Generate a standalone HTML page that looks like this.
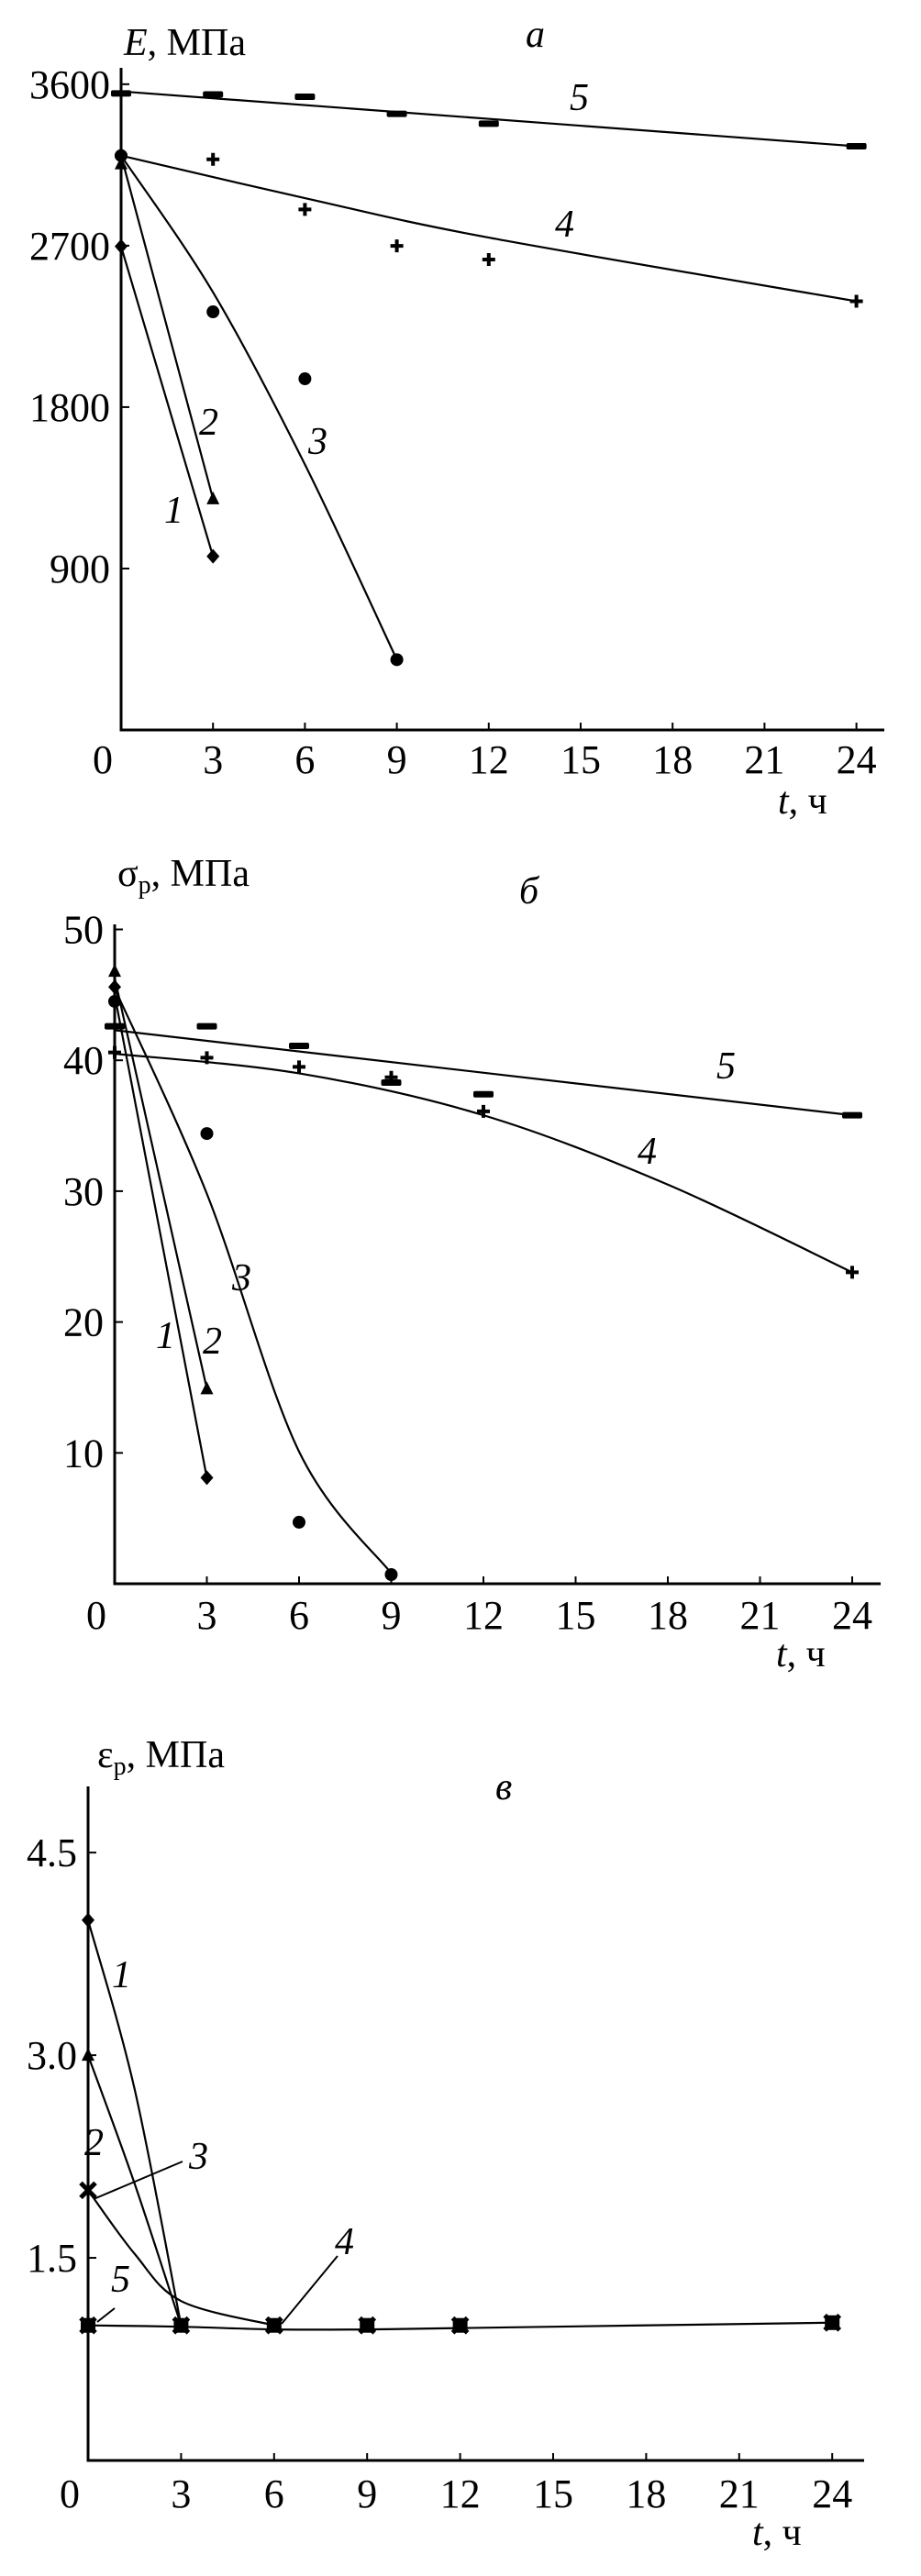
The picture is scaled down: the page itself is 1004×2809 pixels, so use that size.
<!DOCTYPE html>
<html><head><meta charset="utf-8"><style>
html,body{margin:0;padding:0;background:#fff;}
svg{display:block;}
text{font-family:"Liberation Serif","Times New Roman",serif;fill:#000;}
.tick{font-size:44px;font-family:"Liberation Serif",serif;}
.it{font-style:italic;font-size:42px;font-family:"Liberation Serif",serif;}
</style></head><body>
<svg id="chart" width="1004" height="2809" viewBox="0 0 1004 2809" xmlns="http://www.w3.org/2000/svg" font-family="Liberation Serif, serif"></svg>
<script>
// ---- Panel a: E, MPa ----
const aTimes = [0, 3, 6, 9, 12, 24];
const aS5 = [3549, 3543, 3530, 3435, 3380, 3254];
const aS4 = [3202, 3181, 2902, 2699, 2623, 2390];
const aS3 = [3202, 2331, 1958, 392];
const aS2 = [3156, 1289];
const aS1 = [2696, 968];
const aFit5T = [0, 24]; const aFit5V = [3560, 3254];
const aFit4T = [0, 6, 12, 24]; const aFit4V = [3202, 2965, 2745, 2390];
const aFit3T = [0, 3, 6, 9]; const aFit3V = [3202, 2440, 1480, 392];
const aFit2T = [0, 3]; const aFit2V = [3202, 1289];
const aFit1T = [0, 3]; const aFit1V = [2696, 968];
const aYTicks = [900, 1800, 2700, 3600];
const xTicks = [3, 6, 9, 12, 15, 18, 21, 24];
// ---- Panel b: sigma_p ----
const bS5 = [42.6, 42.6, 41.1, 38.3, 37.4, 35.8];
const bS4 = [40.6, 40.2, 39.5, 38.7, 36.1, 23.8];
const bS3 = [44.5, 34.4, 4.7, 0.7];
const bS2 = [46.8, 14.9];
const bS1 = [45.6, 8.1];
const bFit5T = [0, 24]; const bFit5V = [42.3, 35.8];
const bFit4T = [0, 6, 12, 18, 24]; const bFit4V = [40.5, 39.0, 35.8, 30.5, 23.8];
const bFit3T = [0, 3, 6, 9]; const bFit3V = [45.5, 29.8, 10.1, 0.8];
const bFit2T = [0, 3]; const bFit2V = [46.3, 14.9];
const bFit1T = [0, 3]; const bFit1V = [45.0, 8.1];
const bYTicks = [10, 20, 30, 40, 50];
// ---- Panel c: epsilon_p ----
const cS1 = [4.0, 1.0];
const cS2 = [3.0, 1.0];
const cS3 = [2.0, 1.0, 1.0, 1.0, 1.0, 1.02];
const cS45 = [1.0, 1.0, 1.0, 1.0, 1.0, 1.02];
const cFit1T = [0, 1.5, 3]; const cFit1V = [4.0, 2.75, 1.0];
const cFit2T = [0, 1.5, 3]; const cFit2V = [3.0, 2.05, 1.0];
const cFit3T = [0, 1.5, 3, 6]; const cFit3V = [2.0, 1.53, 1.18, 1.0];
const cFit4T = [0, 3, 6, 9, 12, 24]; const cFit4V = [1.0, 0.99, 0.97, 0.97, 0.98, 1.02];
const cYTicks = [1.5, 3.0, 4.5];

const svg = document.getElementById('chart');
const NS = 'http://www.w3.org/2000/svg';
function mk(tag, attrs, parent) {
  const e = document.createElementNS(NS, tag);
  for (const k in attrs) e.setAttribute(k, attrs[k]);
  (parent || svg).appendChild(e);
  return e;
}
function txt(x, y, s, cls, anchor, parent) {
  const t = mk('text', {x: x, y: y, class: cls, 'text-anchor': anchor || 'start'}, parent);
  t.textContent = s;
  return t;
}
function smooth(pts) {
  if (pts.length < 3) return 'M' + pts.map(p => p[0] + ',' + p[1]).join(' L');
  let d = 'M' + pts[0][0] + ',' + pts[0][1];
  for (let i = 0; i < pts.length - 1; i++) {
    const p0 = pts[i - 1] || pts[i], p1 = pts[i], p2 = pts[i + 1], p3 = pts[i + 2] || p2;
    const c1 = [p1[0] + (p2[0] - p0[0]) / 6, p1[1] + (p2[1] - p0[1]) / 6];
    const c2 = [p2[0] - (p3[0] - p1[0]) / 6, p2[1] - (p3[1] - p1[1]) / 6];
    d += ' C' + c1[0] + ',' + c1[1] + ' ' + c2[0] + ',' + c2[1] + ' ' + p2[0] + ',' + p2[1];
  }
  return d;
}
function marker(g, type, x, y) {
  let e;
  if (type === 'diamond') e = mk('polygon', {points: `${x},${y-8} ${x+7},${y} ${x},${y+8} ${x-7},${y}`, fill: '#000'}, g);
  else if (type === 'triangle') e = mk('polygon', {points: `${x},${y-8} ${x+7},${y+6} ${x-7},${y+6}`, fill: '#000'}, g);
  else if (type === 'circle') e = mk('circle', {cx: x, cy: y, r: 7, fill: '#000'}, g);
  else if (type === 'plus') e = mk('path', {d: `M${x-7},${y} H${x+7} M${x},${y-7} V${y+7}`, stroke: '#000', 'stroke-width': 4}, g);
  else if (type === 'dash') e = mk('rect', {x: x-11, y: y-3.5, width: 22, height: 7, rx: 2, fill: '#000'}, g);
  else if (type === 'square') e = mk('rect', {x: x-8, y: y-8, width: 16, height: 16, fill: '#000'}, g);
  else if (type === 'cross') e = mk('path', {d: `M${x-8},${y-8} L${x+8},${y+8} M${x+8},${y-8} L${x-8},${y+8}`, stroke: '#000', 'stroke-width': 5}, g);
  
  
}
function panel(cfg) {
  const g = mk('g', {});
  
  
  const X = t => cfg.x0 + t * cfg.kx;
  const Y = v => cfg.y0 - v * cfg.ky;
  const ax = mk('path', {d: `M${cfg.x0},${cfg.top} V${cfg.y0} H${cfg.xEnd}`, stroke: '#000', 'stroke-width': 3, fill: 'none'}, g);
  
  
  xTicks.forEach(t => {
    const tk = mk('line', {x1: X(t), x2: X(t), y1: cfg.y0, y2: cfg.y0 - 8, stroke: '#000', 'stroke-width': 2}, g);
    
    
    const l = txt(X(t), cfg.xLabY, String(t), 'tick', 'middle', g);
    
    
  });
  const z = txt(cfg.x0 - 20, cfg.xLabY, '0', 'tick', 'middle', g);
  
  
  cfg.yTicks.forEach(v => {
    const tk = mk('line', {x1: cfg.x0, x2: cfg.x0 + 9, y1: Y(v), y2: Y(v), stroke: '#000', 'stroke-width': 2}, g);
    
    
    const l = txt(cfg.x0 - 12, Y(v) + 15, cfg.fmt(v), 'tick', 'end', g);
    
    
  });
  cfg.fits.forEach(f => {
    const p = mk('path', {d: smooth(f[0].map((t, i) => [X(t), Y(f[1][i])])), stroke: '#000', 'stroke-width': 2.2, fill: 'none'}, g);
    
    
  });
  cfg.series.forEach(s => {
    s[1].forEach((v, i) => marker(g, s[0], X(aTimes[i]), Y(v)));
  });
  return g;
}
panel({name: 'panel-a', x0: 132, y0: 796, kx: 33.4, ky: 0.1956, top: 74, xEnd: 964, xLabY: 843,
  yTicks: aYTicks, fmt: v => String(v),
  fits: [[aFit5T, aFit5V, '5'], [aFit4T, aFit4V, '4'], [aFit3T, aFit3V, '3'], [aFit2T, aFit2V, '2'], [aFit1T, aFit1V, '1']],
  series: [['dash', aS5], ['plus', aS4], ['circle', aS3], ['triangle', aS2], ['diamond', aS1]]});
panel({name: 'panel-b', x0: 125, y0: 1727, kx: 33.5, ky: 14.27, top: 1008, xEnd: 960, xLabY: 1776,
  yTicks: bYTicks, fmt: v => String(v),
  fits: [[bFit5T, bFit5V, '5'], [bFit4T, bFit4V, '4'], [bFit3T, bFit3V, '3'], [bFit2T, bFit2V, '2'], [bFit1T, bFit1V, '1']],
  series: [['dash', bS5], ['plus', bS4], ['circle', bS3], ['triangle', bS2], ['diamond', bS1]]});
panel({name: 'panel-c', x0: 96, y0: 2683, kx: 33.8, ky: 147.3, top: 1948, xEnd: 942, xLabY: 2734,
  yTicks: cYTicks, fmt: v => v.toFixed(1),
  fits: [[cFit1T, cFit1V, '1'], [cFit2T, cFit2V, '2'], [cFit3T, cFit3V, '3'], [cFit4T, cFit4V, '4-5']],
  series: [['diamond', cS1], ['triangle', cS2], ['cross', cS3], ['square', cS45], ['cross', cS45]]});
</script>
<svg style="position:absolute;left:0;top:0" width="1004" height="2809" xmlns="http://www.w3.org/2000/svg">
  <text x="135" y="60" style="font-size:42px"><tspan font-style="italic">E</tspan>, МПа</text>
  <text x="573" y="51" class="it">а</text>
  <text x="848" y="887" style="font-size:42px"><tspan font-style="italic">t</tspan>, ч</text>
  <text x="621" y="120" class="it">5</text>
  <text x="605" y="258" class="it">4</text>
  <text x="336" y="495" class="it">3</text>
  <text x="217" y="474" class="it">2</text>
  <text x="179" y="570" class="it">1</text>

  <text x="128" y="966" style="font-size:42px">σ<tspan font-size="28" dy="8">р</tspan><tspan dy="-8">, МПа</tspan></text>
  <text x="566" y="985" class="it">б</text>
  <text x="846" y="1817" style="font-size:42px"><tspan font-style="italic">t</tspan>, ч</text>
  <text x="781" y="1176" class="it">5</text>
  <text x="695" y="1269" class="it">4</text>
  <text x="253" y="1407" class="it">3</text>
  <text x="221" y="1476" class="it">2</text>
  <text x="170" y="1470" class="it">1</text>

  <text x="106" y="1927" style="font-size:42px">ε<tspan font-size="28" dy="8">р</tspan><tspan dy="-8">, МПа</tspan></text>
  <text x="540" y="1962" class="it">в</text>
  <text x="820" y="2775" style="font-size:42px"><tspan font-style="italic">t</tspan>, ч</text>
  <text x="122" y="2167" class="it">1</text>
  <text x="92" y="2350" class="it">2</text>
  <text x="206" y="2365" class="it">3</text>
  <text x="365" y="2458" class="it">4</text>
  <text x="121" y="2499" class="it">5</text>
  <path d="M102,2398 L199,2357 M307,2534 L368,2460 M106,2532 L125,2517" stroke="#000" stroke-width="2" fill="none"/>
</svg>
</body></html>
